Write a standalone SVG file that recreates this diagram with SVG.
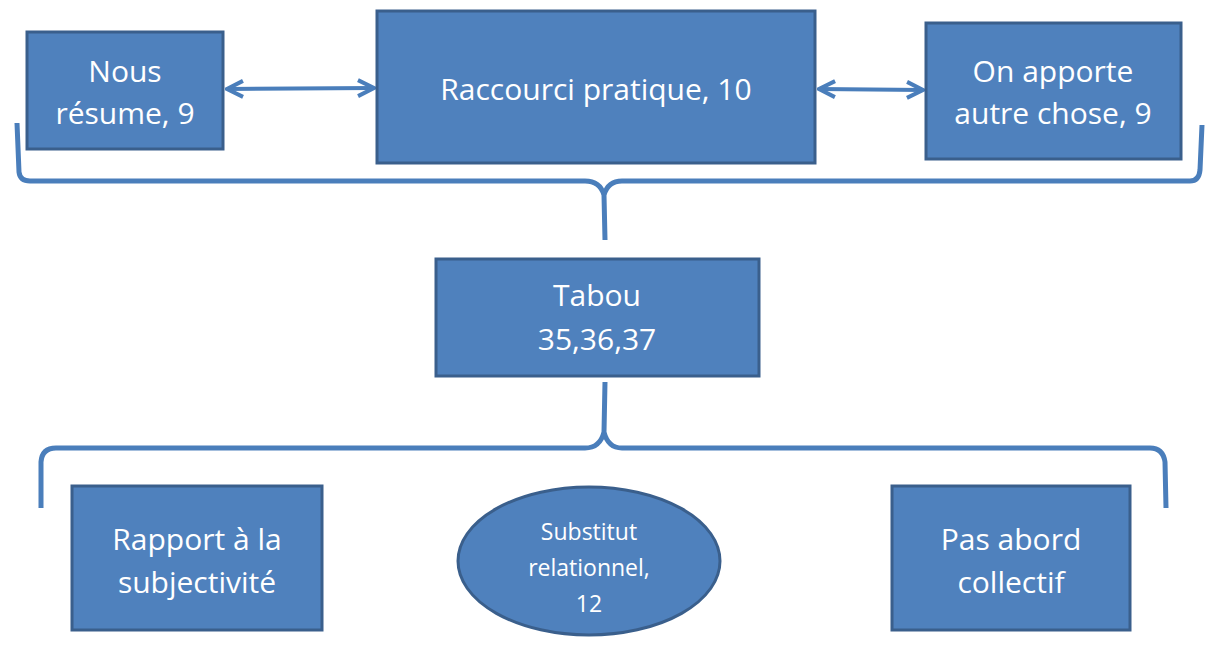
<svg xmlns="http://www.w3.org/2000/svg" width="1207" height="646" viewBox="0 0 1207 646">
<defs>
<style>
.box{fill:#4F81BD;stroke:#3A5F8C;stroke-width:3}
.t{font-family:"Open Sans","Liberation Sans",sans-serif;fill:#FFFFFF;text-anchor:middle;font-size:30px}
.ts{font-size:23px}
.br{fill:none;stroke:#4A7EBB;stroke-width:5;stroke-linejoin:round;stroke-linecap:butt}
.ar{fill:none;stroke:#4A7EBB;stroke-width:4}
</style>
<marker id="ah" viewBox="0 0 10 10" refX="9" refY="5" markerWidth="5" markerHeight="5" orient="auto-start-reverse" markerUnits="strokeWidth">
<path d="M1,1 L9,5 L1,9" fill="none" stroke="#4A7EBB" stroke-width="2"/>
</marker>
</defs>
<rect width="1207" height="646" fill="#FFFFFF"/>
<g id="connectors">
<path class="br" d="M17,123 L19,172 Q20,181 30,181 L585,181 Q600,181 604,195 L605,240 M604,195 Q608,181 622,181 L1190,181 Q1199,181 1200,170 L1202,125"/>
<path class="br" d="M41,508 L41,462 Q42,448 56,448 L585,448 Q600,448 604,432 L605,382 M604,432 Q608,448 622,448 L1150,448 Q1163,448 1165,462 L1166,508"/>
<line class="ar" x1="227" y1="89" x2="374" y2="88" marker-start="url(#ah)" marker-end="url(#ah)"/>
<line class="ar" x1="819" y1="89" x2="923" y2="90" marker-start="url(#ah)" marker-end="url(#ah)"/>
</g>
<g id="n1">
<rect class="box" x="27" y="32" width="196" height="117"/>
<text class="t" x="125" y="82">Nous</text>
<text class="t" x="125" y="124">résume, 9</text>
</g>
<g id="n2">
<rect class="box" x="377" y="11" width="438" height="152"/>
<text class="t" x="596" y="100">Raccourci pratique, 10</text>
</g>
<g id="n3">
<rect class="box" x="926" y="23" width="255" height="136"/>
<text class="t" x="1053" y="82">On apporte</text>
<text class="t" x="1053" y="124">autre chose, 9</text>
</g>
<g id="n4">
<rect class="box" x="436" y="259" width="323" height="117"/>
<text class="t" x="597" y="306">Tabou</text>
<text class="t" x="597" y="350">35,36,37</text>
</g>
<g id="n5">
<rect class="box" x="72" y="486" width="250" height="144"/>
<text class="t" x="197" y="550">Rapport à la</text>
<text class="t" x="197" y="593">subjectivité</text>
</g>
<g id="n6">
<ellipse class="box" cx="589" cy="561" rx="131" ry="74"/>
<text class="t ts" x="589" y="540">Substitut</text>
<text class="t ts" x="589" y="576">relationnel,</text>
<text class="t ts" x="589" y="612">12</text>
</g>
<g id="n7">
<rect class="box" x="892" y="486" width="238" height="144"/>
<text class="t" x="1011" y="550">Pas abord</text>
<text class="t" x="1011" y="593">collectif</text>
</g>
</svg>
